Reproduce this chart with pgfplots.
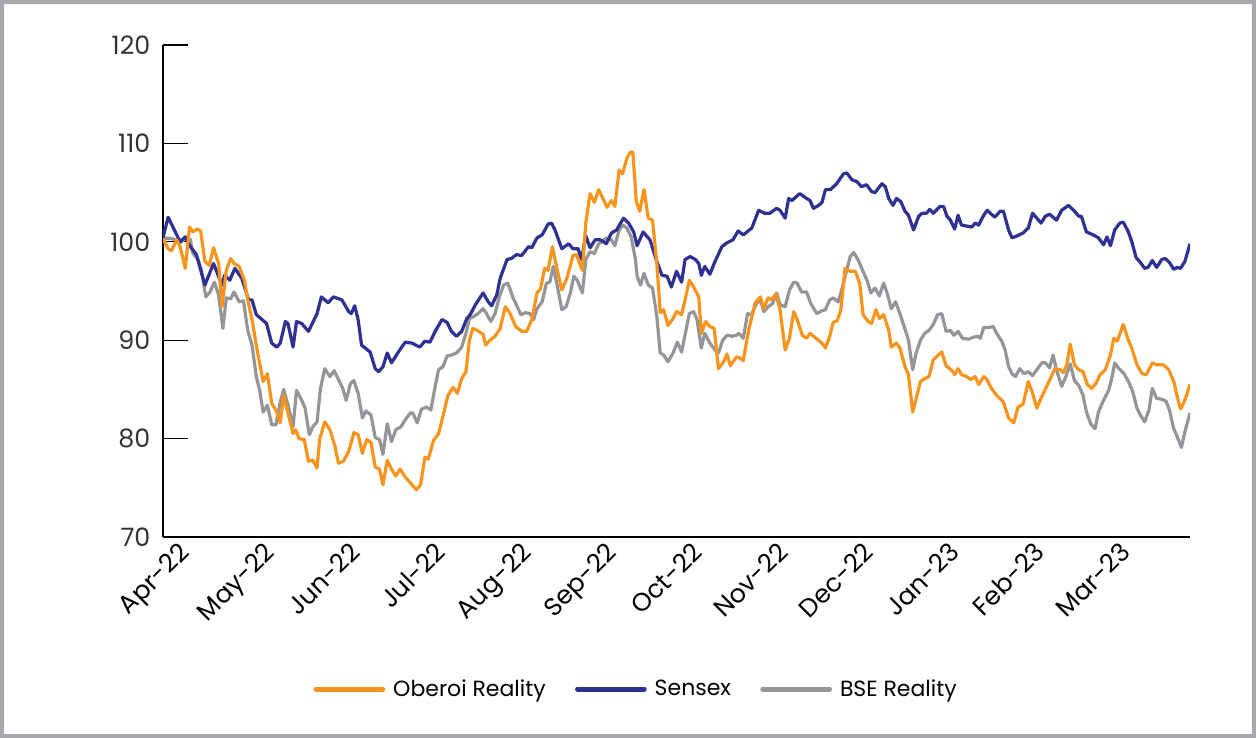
\documentclass[border=0pt]{standalone}
\usepackage{fontspec}
\setmainfont{Poppins}
\usepackage{pgfplots}
\pgfplotsset{compat=1.18}
\definecolor{oberoi}{HTML}{F7941D}
\definecolor{sensex}{HTML}{2E3192}
\definecolor{bse}{HTML}{939598}
\definecolor{framegray}{HTML}{A7A9AC}
\begin{document}
\begin{tikzpicture}[x=1pt,y=1pt]
\useasboundingbox (0,0) rectangle (942,553.5);
\draw[framegray, line width=3pt] (1.5,1.5) rectangle (940.5,552);
\begin{axis}[
  at={(122.25pt,150.75pt)}, anchor=south west,
  scale only axis, width=770.25pt, height=369pt,
  xmin=0, xmax=12, ymin=70, ymax=120,
  axis x line*=bottom, axis y line*=left,
  axis line style={black, line width=1pt},
  ytick={70,80,90,100,110,120},
  xtick={0,1,2,3,4,5,6,7,8,9,10,11},
  xticklabels={Apr-22,May-22,Jun-22,Jul-22,Aug-22,Sep-22,Oct-22,Nov-22,Dec-22,Jan-23,Feb-23,Mar-23},
  tick align=inside, major tick length=19pt,
  xtick style={draw=none},
  ytick style={black, line width=0.9pt},
  /pgf/number format/assume math mode=true,
  tick label style={font=\fontsize{19}{22}\selectfont},
  yticklabel style={xshift=-6pt, text=black!80},
  xticklabel style={rotate=45, anchor=north east, xshift=9pt, yshift=-6pt, text=black},
  legend style={at={(0.461,-0.309)}, anchor=center, draw=none, fill=none,
    legend columns=3, font=\fontsize{16.5}{20}\selectfont,
    /tikz/every even column/.append style={column sep=20pt},
    /tikz/every odd column/.append style={column sep=4pt}},
  legend image code/.code={\draw[#1, line width=3.75pt, line cap=round] (0pt,0pt) -- (50pt,0pt);},
  every axis plot/.append style={line width=2.4pt, line join=round},
]
\addlegendimage{oberoi}\addlegendentry{Oberoi Reality}
\addlegendimage{sensex}\addlegendentry{Sensex}
\addlegendimage{bse}\addlegendentry{BSE Reality}

% BSE Reality
\addplot[bse, forget plot] coordinates {
(0.00,100.4)(0.12,100.3)(0.20,99.9)(0.28,100.5)(0.32,100.2)(0.35,98.8)(0.41,98.2)(0.45,97.1)(0.50,94.4)(0.55,94.9)
(0.60,95.9)(0.65,94.6)(0.70,91.2)(0.74,94.3)(0.79,94.2)(0.83,94.9)(0.89,93.9)(0.94,94.0)(0.99,91.0)(1.04,89.5)
(1.09,86.3)(1.13,84.9)(1.17,82.7)(1.22,83.4)(1.27,81.4)(1.32,81.4)(1.37,83.7)(1.41,85.0)(1.46,83.4)(1.52,81.2)
(1.56,84.9)(1.62,83.9)(1.66,83.1)(1.71,80.4)(1.75,81.2)(1.80,81.7)(1.84,85.1)(1.89,87.1)(1.95,86.3)(2.00,86.9)
(2.05,86.0)(2.10,85.1)(2.14,83.9)(2.19,85.6)(2.23,85.9)(2.28,84.6)(2.33,82.1)(2.37,82.8)(2.43,82.4)(2.48,80.1)
(2.53,79.9)(2.57,78.4)(2.62,81.5)(2.67,79.7)(2.72,80.9)(2.78,81.2)(2.83,81.9)(2.89,82.6)(2.92,82.6)(2.97,81.6)
(3.02,83.0)(3.08,83.2)(3.13,82.9)(3.18,85.3)(3.22,87.0)(3.27,87.3)(3.32,88.4)(3.37,88.5)(3.43,88.7)(3.49,89.3)
(3.54,90.7)(3.58,92.2)(3.63,92.4)(3.68,92.7)(3.74,93.2)(3.78,92.7)(3.83,91.9)(3.88,92.7)(3.93,94.4)(3.98,95.6)
(4.03,95.8)(4.09,94.3)(4.14,93.4)(4.18,92.6)(4.24,92.8)(4.29,92.7)(4.33,92.1)(4.37,93.2)(4.43,93.9)(4.48,95.8)
(4.52,95.9)(4.56,97.5)(4.61,95.4)(4.66,93.1)(4.71,93.4)(4.76,94.8)(4.80,96.5)(4.84,96.1)(4.90,94.8)(4.94,98.2)
(4.99,99.0)(5.04,98.8)(5.09,99.8)(5.14,100.1)(5.18,100.4)(5.24,100.2)(5.28,99.6)(5.33,101.2)(5.37,101.7)(5.42,101.4)
(5.47,100.5)(5.52,98.2)(5.54,96.5)(5.58,95.6)(5.62,96.8)(5.67,95.6)(5.72,95.3)(5.77,92.4)(5.81,88.7)(5.85,88.5)
(5.90,87.8)(5.96,88.7)(6.01,89.8)(6.06,88.8)(6.11,91.0)(6.15,92.7)(6.20,92.9)(6.24,92.1)(6.29,89.2)(6.33,90.7)
(6.39,89.7)(6.45,89.0)(6.49,88.7)(6.54,90.0)(6.59,90.5)(6.65,90.4)(6.70,90.5)(6.73,90.7)(6.78,90.2)(6.83,92.7)
(6.88,92.6)(6.93,93.7)(6.98,94.1)(7.02,92.9)(7.07,93.4)(7.12,93.7)(7.17,94.8)(7.21,93.6)(7.27,93.4)(7.32,95.1)
(7.37,95.9)(7.41,95.8)(7.46,94.9)(7.52,94.9)(7.57,93.7)(7.64,92.7)(7.70,93.0)(7.74,93.1)(7.79,94.1)(7.83,94.3)
(7.89,93.9)(7.93,95.1)(7.97,96.5)(8.03,98.5)(8.07,98.9)(8.12,98.2)(8.18,97.0)(8.23,96.0)(8.27,94.8)(8.32,95.3)
(8.37,94.5)(8.42,95.8)(8.46,94.8)(8.51,93.2)(8.56,93.9)(8.61,92.7)(8.66,91.4)(8.71,90.0)(8.76,87.0)(8.80,88.7)
(8.85,90.0)(8.90,90.7)(8.95,91.0)(9.00,91.6)(9.05,92.6)(9.10,92.7)(9.15,90.9)(9.20,91.0)(9.24,90.5)(9.29,90.9)
(9.34,90.2)(9.41,90.1)(9.47,90.3)(9.52,90.4)(9.55,90.2)(9.59,91.3)(9.66,91.3)(9.70,91.4)(9.74,90.7)(9.80,89.9)
(9.84,89.0)(9.88,87.3)(9.92,86.6)(9.96,86.3)(10.01,87.1)(10.06,86.6)(10.11,86.8)(10.16,86.4)(10.21,87.0)(10.27,87.7)
(10.31,87.7)(10.36,87.2)(10.40,88.5)(10.44,87.0)(10.50,85.3)(10.55,86.3)(10.60,87.6)(10.65,85.9)(10.70,85.4)(10.75,84.4)
(10.79,82.7)(10.84,81.5)(10.89,81.0)(10.93,82.7)(10.99,83.9)(11.05,84.9)(11.09,86.3)(11.12,87.7)(11.17,87.1)(11.23,86.6)
(11.28,85.8)(11.33,84.8)(11.38,83.1)(11.42,82.4)(11.47,81.7)(11.52,82.9)(11.56,85.1)(11.61,84.1)(11.67,84.0)(11.72,83.8)
(11.76,82.9)(11.81,81.0)(11.85,80.2)(11.90,79.1)(11.94,80.7)(12.00,82.6)
};

% Sensex
\addplot[sensex, forget plot] coordinates {
(0.00,100.4)(0.06,102.5)(0.20,100.0)(0.26,100.5)(0.32,99.5)(0.39,98.7)(0.49,95.6)(0.59,97.8)(0.69,95.6)(0.72,96.6)
(0.78,96.1)(0.84,97.3)(0.92,96.3)(1.00,94.1)(1.04,94.1)(1.09,92.6)(1.21,91.7)(1.27,89.7)(1.33,89.3)(1.37,89.7)
(1.43,91.9)(1.46,91.7)(1.52,89.3)(1.56,91.9)(1.62,91.7)(1.70,90.9)(1.80,92.7)(1.85,94.4)(1.93,93.8)(1.99,94.4)
(2.09,94.1)(2.17,92.9)(2.20,92.7)(2.24,93.5)(2.28,92.1)(2.32,89.5)(2.42,88.8)(2.48,87.1)(2.52,86.8)(2.57,87.3)
(2.62,88.7)(2.67,87.7)(2.75,88.8)(2.83,89.8)(2.91,89.7)(3.00,89.3)(3.06,89.9)(3.12,89.8)(3.18,90.9)(3.26,92.1)
(3.32,91.8)(3.37,90.9)(3.43,90.4)(3.49,90.9)(3.55,92.2)(3.59,92.6)(3.65,93.6)(3.74,94.8)(3.80,93.9)(3.84,93.5)
(3.90,94.6)(3.94,96.3)(4.02,98.2)(4.07,98.3)(4.13,98.7)(4.19,98.6)(4.27,99.5)(4.31,99.4)(4.37,100.4)(4.43,100.7)
(4.50,101.8)(4.54,101.9)(4.58,101.2)(4.66,99.3)(4.74,99.8)(4.79,99.3)(4.85,99.3)(4.89,98.2)(4.94,100.6)(4.99,99.4)
(5.05,100.2)(5.11,100.2)(5.18,99.8)(5.24,100.9)(5.30,101.2)(5.38,102.4)(5.44,101.9)(5.50,101.0)(5.54,99.6)(5.61,101.0)
(5.69,100.2)(5.77,98.0)(5.83,96.6)(5.89,96.5)(5.94,95.4)(6.00,97.0)(6.06,95.9)(6.10,98.2)(6.16,98.5)(6.22,98.2)
(6.26,97.8)(6.29,96.6)(6.33,97.5)(6.39,96.7)(6.45,98.0)(6.53,99.5)(6.59,99.9)(6.66,100.2)(6.72,101.1)(6.78,100.7)
(6.88,101.4)(6.96,103.2)(7.03,102.9)(7.09,102.9)(7.17,103.4)(7.21,103.2)(7.27,102.4)(7.31,104.4)(7.35,104.2)(7.44,104.9)
(7.52,104.4)(7.56,104.2)(7.60,103.4)(7.66,103.7)(7.70,104.0)(7.74,105.3)(7.80,105.3)(7.87,105.9)(7.95,106.9)(7.99,107.0)
(8.05,106.3)(8.11,106.1)(8.16,105.6)(8.22,105.8)(8.28,105.1)(8.32,105.0)(8.40,105.9)(8.44,105.6)(8.48,104.4)(8.53,103.7)
(8.57,104.4)(8.62,104.1)(8.67,103.1)(8.71,102.7)(8.77,101.2)(8.83,102.6)(8.87,102.9)(8.92,102.9)(8.96,103.3)(9.00,102.9)
(9.08,103.6)(9.12,103.6)(9.16,102.6)(9.20,102.2)(9.25,101.3)(9.29,102.7)(9.33,101.7)(9.39,101.6)(9.45,101.5)(9.49,101.9)
(9.53,101.7)(9.59,102.7)(9.63,103.2)(9.68,102.8)(9.72,102.5)(9.78,103.1)(9.82,103.1)(9.88,101.2)(9.92,100.4)(9.98,100.6)
(10.05,100.9)(10.11,101.4)(10.16,102.9)(10.21,102.4)(10.26,101.9)(10.31,102.6)(10.36,102.8)(10.44,102.2)(10.50,103.2)(10.58,103.7)
(10.64,103.2)(10.70,102.6)(10.73,102.6)(10.79,101.0)(10.87,100.7)(10.93,100.4)(10.99,99.7)(11.03,100.5)(11.07,99.6)(11.12,101.2)
(11.18,101.9)(11.22,102.0)(11.28,101.0)(11.32,100.0)(11.37,98.4)(11.42,97.9)(11.47,97.3)(11.51,97.4)(11.56,98.1)(11.61,97.4)
(11.67,98.2)(11.71,98.3)(11.76,97.9)(11.81,97.2)(11.85,97.4)(11.89,97.3)(11.94,98.0)(12.00,99.8)
};

% Oberoi Reality
\addplot[oberoi, forget plot] coordinates {
(0.00,100.3)(0.06,99.3)(0.10,99.1)(0.16,100.2)(0.20,99.5)(0.26,97.3)(0.31,101.5)(0.35,101.0)(0.40,101.3)(0.44,101.1)
(0.49,98.0)(0.54,97.6)(0.59,99.4)(0.65,97.8)(0.69,93.4)(0.74,97.1)(0.79,98.3)(0.83,97.8)(0.89,97.5)(0.95,96.1)
(0.99,94.1)(1.04,92.1)(1.10,89.0)(1.17,85.8)(1.22,86.6)(1.27,83.6)(1.33,82.7)(1.37,81.6)(1.41,84.4)(1.46,82.6)
(1.52,80.5)(1.55,80.9)(1.59,80.0)(1.65,79.9)(1.70,77.7)(1.75,77.8)(1.80,77.0)(1.83,79.9)(1.89,81.7)(1.95,80.9)
(2.01,79.2)(2.05,77.5)(2.11,77.7)(2.17,78.7)(2.23,80.6)(2.28,80.4)(2.33,78.5)(2.38,79.9)(2.43,79.6)(2.48,77.1)
(2.53,76.9)(2.57,75.3)(2.62,77.8)(2.67,76.9)(2.72,76.2)(2.77,76.9)(2.83,76.1)(2.89,75.5)(2.96,74.8)(3.01,75.3)
(3.06,78.1)(3.10,77.9)(3.16,79.8)(3.22,80.5)(3.28,82.6)(3.33,84.4)(3.39,85.2)(3.44,84.6)(3.49,86.1)(3.54,86.8)
(3.58,90.0)(3.62,91.2)(3.67,91.0)(3.74,90.6)(3.77,89.5)(3.82,90.0)(3.88,90.4)(3.94,91.2)(4.00,93.4)(4.05,92.8)
(4.12,91.4)(4.19,90.9)(4.25,90.9)(4.31,92.1)(4.37,94.8)(4.41,95.2)(4.46,97.3)(4.50,97.1)(4.55,99.5)(4.61,97.0)
(4.66,95.1)(4.72,96.3)(4.79,98.6)(4.83,98.7)(4.90,97.1)(4.94,101.9)(4.99,104.9)(5.04,104.0)(5.09,105.3)(5.14,104.4)
(5.19,103.5)(5.24,104.2)(5.28,103.6)(5.33,107.3)(5.37,106.9)(5.42,108.5)(5.46,109.1)(5.49,109.1)(5.53,104.1)(5.57,103.1)
(5.62,105.3)(5.67,102.4)(5.72,102.2)(5.77,97.8)(5.81,92.8)(5.85,93.1)(5.90,91.5)(5.96,92.2)(6.00,92.9)(6.06,92.6)
(6.10,94.1)(6.15,96.1)(6.20,95.4)(6.26,94.4)(6.29,90.7)(6.34,91.9)(6.39,91.4)(6.44,91.2)(6.49,87.1)(6.55,87.8)
(6.59,88.6)(6.63,87.4)(6.70,88.3)(6.74,88.2)(6.78,87.9)(6.84,90.9)(6.92,93.8)(6.98,94.4)(7.02,93.2)(7.07,94.3)
(7.11,94.1)(7.16,94.7)(7.21,93.1)(7.27,89.0)(7.32,90.2)(7.37,92.9)(7.41,92.1)(7.47,90.5)(7.52,90.2)(7.56,90.7)
(7.63,90.2)(7.70,89.7)(7.74,89.2)(7.79,90.4)(7.83,91.8)(7.88,92.0)(7.92,93.1)(7.97,97.3)(8.03,97.0)(8.09,97.0)
(8.14,95.8)(8.18,92.6)(8.24,91.9)(8.28,91.7)(8.33,93.1)(8.37,92.2)(8.42,92.6)(8.48,91.0)(8.51,89.3)(8.57,89.7)
(8.61,89.2)(8.67,87.3)(8.71,86.5)(8.76,82.7)(8.81,84.4)(8.85,85.8)(8.90,86.1)(8.95,86.3)(9.00,88.0)(9.06,88.5)
(9.10,88.8)(9.15,87.4)(9.22,86.9)(9.25,86.5)(9.29,87.1)(9.33,86.5)(9.39,86.3)(9.44,86.0)(9.49,86.3)(9.53,85.5)
(9.59,86.3)(9.62,86.1)(9.68,85.1)(9.74,84.4)(9.82,83.7)(9.88,82.1)(9.94,81.6)(9.99,83.2)(10.05,83.5)(10.11,85.8)
(10.15,84.9)(10.21,83.1)(10.27,84.3)(10.33,85.4)(10.38,86.3)(10.42,87.1)(10.48,87.0)(10.52,86.7)(10.56,87.5)(10.60,89.6)
(10.65,87.5)(10.70,87.0)(10.75,86.8)(10.80,85.5)(10.85,85.1)(10.90,85.6)(10.95,86.5)(11.01,87.0)(11.07,88.5)(11.11,90.2)
(11.15,89.9)(11.22,91.6)(11.28,90.0)(11.32,89.2)(11.38,87.5)(11.44,86.6)(11.49,86.5)(11.56,87.7)(11.61,87.5)(11.69,87.5)
(11.75,87.0)(11.81,85.8)(11.85,84.3)(11.89,83.0)(11.94,83.9)(12.00,85.5)
};
\end{axis}
\end{tikzpicture}
\end{document}
